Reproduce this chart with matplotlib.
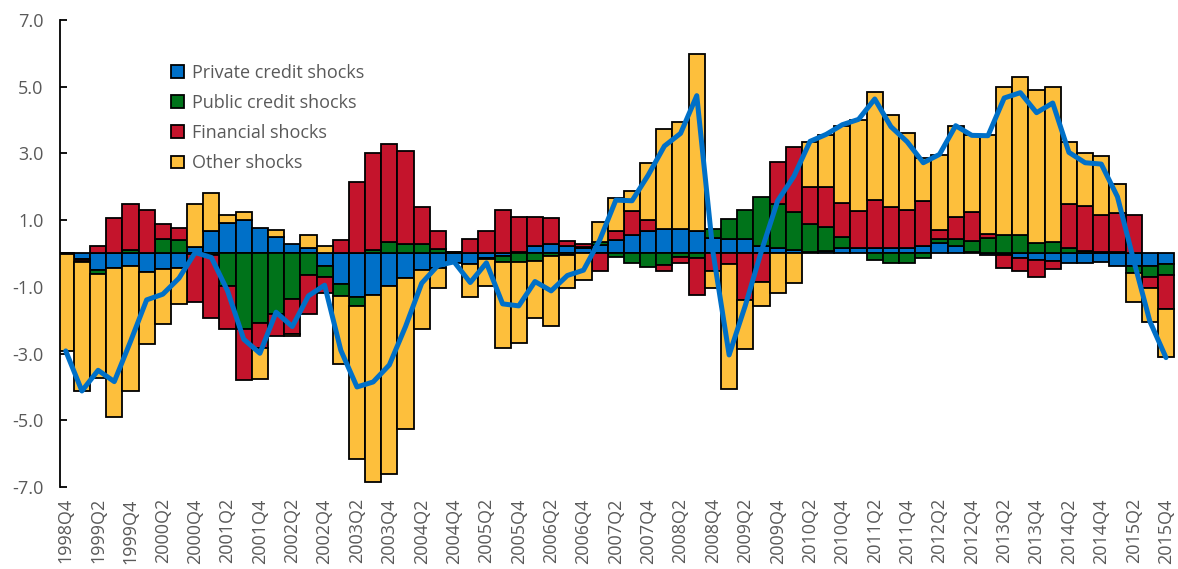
import numpy as np
import matplotlib
matplotlib.use('Agg')
import matplotlib.pyplot as plt

# quarters 1998Q4 .. 2015Q4
quarters = []
for y in range(1998, 2016):
    for q in range(1, 5):
        if (y, q) >= (1998, 4):
            quarters.append(f"{y}Q{q}")

private = [-0.02, -0.17, -0.50, -0.42, -0.37, -0.54, -0.47, -0.42, 0.18, 0.66,
           0.91, 1.00, 0.76, 0.48, 0.28, 0.16, -0.37, -0.90, -1.30, -1.25,
           -0.97, -0.72, -0.50, -0.42, -0.30, -0.32, -0.15, -0.07, 0.05, 0.22,
           0.28, 0.23, 0.15, 0.25, 0.40, 0.56, 0.68, 0.72, 0.73, 0.68,
           0.45, 0.43, 0.43, 0.22, 0.15, 0.10, 0.05, 0.08, 0.15, 0.15,
           0.15, 0.15, 0.15, 0.22, 0.32, 0.23, 0.05, -0.05, -0.05, -0.14,
           -0.20, -0.22, -0.30, -0.30, -0.25, -0.37, -0.37, -0.37, -0.32]
public = [0.00, -0.03, -0.12, 0.00, 0.10, 0.00, 0.43, 0.40, -0.02, -0.05,
          -0.97, -2.27, -2.07, -1.80, -1.37, -0.65, -0.33, -0.37, -0.27, 0.10,
          0.33, 0.28, 0.28, 0.12, 0.02, 0.00, -0.03, -0.20, -0.25, -0.24,
          -0.08, -0.05, 0.05, 0.10, -0.10, -0.30, -0.40, -0.34, -0.12, -0.14,
          0.28, 0.60, 0.88, 1.48, 1.33, 1.13, 0.83, 0.70, 0.35, 0.00,
          -0.20, -0.30, -0.30, -0.14, 0.10, 0.20, 0.33, 0.45, 0.55, 0.55,
          0.30, 0.33, 0.15, 0.08, 0.05, 0.03, -0.20, -0.32, -0.32]
financial = [0.00, -0.07, 0.23, 1.05, 1.38, 1.31, 0.45, 0.36, -1.43, -1.87,
             -1.30, -1.53, -0.75, -0.67, -1.03, -1.17, -0.47, 0.40, 2.15, 2.90,
             2.95, 2.78, 1.10, 0.56, 0.03, 0.43, 0.68, 1.31, 1.05, 0.88,
             0.77, 0.13, 0.08, -0.52, 0.28, 0.72, 0.32, -0.18, -0.18, -1.10,
             -0.52, -0.32, -1.40, -0.85, 1.27, 1.95, 1.10, 1.20, 1.00, 1.11,
             1.45, 1.23, 1.16, 1.36, 0.29, 0.67, 0.85, 0.12, -0.37, -0.38,
             -0.50, -0.25, 1.33, 1.35, 1.10, 1.17, 1.16, -0.33, -1.03]
other = [-2.90, -3.85, -3.11, -4.47, -3.75, -2.16, -1.63, -1.08, 1.30, 1.14,
         0.24, 0.23, -0.93, 0.23, -0.07, 0.39, 0.22, -2.03, -4.58, -5.60,
         -5.65, -4.53, -1.77, -0.60, 0.00, -0.98, -0.78, -2.55, -2.42, -1.70,
         -2.09, -0.97, -0.80, 0.60, 0.97, 0.60, 1.70, 3.00, 3.20, 5.29,
         -0.50, -3.75, -1.47, -0.73, -1.17, -0.87, 1.35, 1.58, 2.33, 2.74,
         3.23, 2.78, 2.29, 1.27, 2.25, 2.73, 2.32, 2.98, 4.43, 4.75,
         4.61, 4.65, 1.85, 1.57, 1.76, 0.88, -0.88, -1.03, -1.43]
total = [-2.92, -4.12, -3.50, -3.84, -2.64, -1.39, -1.22, -0.74, 0.03, -0.12,
         -1.12, -2.57, -2.99, -1.76, -2.19, -1.27, -0.95, -2.90, -4.00, -3.85,
         -3.34, -2.19, -0.89, -0.36, -0.25, -0.87, -0.28, -1.51, -1.57, -0.84,
         -1.12, -0.66, -0.50, 0.40, 1.60, 1.58, 2.35, 3.22, 3.60, 4.73,
         0.05, -3.04, -1.56, 0.08, 1.58, 2.31, 3.36, 3.57, 3.86, 4.02,
         4.63, 3.80, 3.35, 2.72, 2.97, 3.83, 3.54, 3.53, 4.66, 4.82,
         4.22, 4.51, 3.03, 2.72, 2.68, 1.70, -0.20, -2.03, -3.12]

series = [("Private credit shocks", private, "#0070C8"),
          ("Public credit shocks", public, "#00731A"),
          ("Financial shocks", financial, "#C4142C"),
          ("Other shocks", other, "#FDBF3C")]

plt.rcParams['font.family'] = ['Open Sans', 'DejaVu Sans']
grey = "#595959"

fig = plt.figure(figsize=(11.78, 5.69), dpi=100)
ax = fig.add_axes([0.051, 0.144, 0.9465, 0.821])

x = np.arange(len(quarters))
pos = np.zeros(len(x))
neg = np.zeros(len(x))
for name, vals, col in series:
    v = np.array(vals)
    bottom = np.where(v >= 0, pos, neg)
    ax.bar(x, v, width=1.0, bottom=bottom, color=col, edgecolor='black',
           linewidth=1.3, label=name, zorder=2)
    pos = pos + np.where(v >= 0, v, 0)
    neg = neg + np.where(v < 0, v, 0)

ax.plot(x, total, color="#0070C8", linewidth=3.6, solid_joinstyle='round',
        solid_capstyle='round', zorder=3)

ax.set_xlim(-0.35, 68.56)
ax.set_ylim(-7, 7)
ax.set_yticks(np.arange(-7, 8, 2))
ax.set_yticklabels([f"{t:.1f}" for t in np.arange(-7, 8, 2)])
ax.set_xticks(x[::2])
ax.set_xticklabels(quarters[::2], rotation=90)

for s in ['top', 'right', 'bottom']:
    ax.spines[s].set_visible(False)
ax.spines['left'].set_linewidth(1.3)
ax.tick_params(axis='y', direction='in', length=5, width=1.3, labelsize=13,
               labelcolor=grey, pad=12)
ax.tick_params(axis='x', length=0, labelsize=13, labelcolor=grey, pad=8)

leg = ax.legend(loc='upper left', bbox_to_anchor=(0.093, 0.922), frameon=False,
                fontsize=13, handlelength=0.7, handleheight=0.7,
                labelspacing=0.68, handletextpad=0.45, borderaxespad=0)
for t in leg.get_texts():
    t.set_color(grey)

fig.savefig("out.png", dpi=100)
